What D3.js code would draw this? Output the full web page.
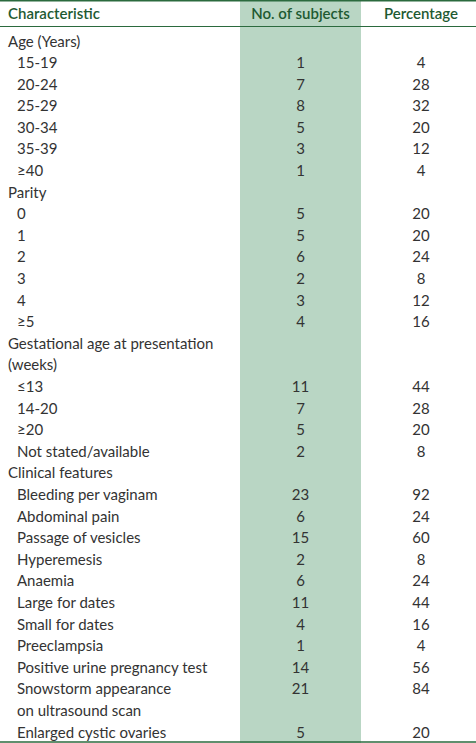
<!DOCTYPE html>
<html><head><meta charset="utf-8">
<script src="https://cdn.jsdelivr.net/npm/d3@7"></script>
<style>html,body{margin:0;padding:0;background:#fff;}svg{display:block;}</style>
</head><body>
<svg id="c" width="476" height="743"></svg>
<script>
const headers = ["Characteristic", "No. of subjects", "Percentage"];
// each entry is one text line; level 0 = group heading, 1 = item
const labels = ["Age (Years)","15-19","20-24","25-29","30-34","35-39","≥40",
  "Parity","0","1","2","3","4","≥5",
  "Gestational age at presentation","(weeks)","≤13","14-20","≥20","Not stated/available",
  "Clinical features","Bleeding per vaginam","Abdominal pain","Passage of vesicles","Hyperemesis",
  "Anaemia","Large for dates","Small for dates","Preeclampsia","Positive urine pregnancy test",
  "Snowstorm appearance","on ultrasound scan","Enlarged cystic ovaries"];
const levels = [0,1,1,1,1,1,1, 0,1,1,1,1,1,1, 0,0,1,1,1,1, 0,1,1,1,1,1,1,1,1,1,1,1,1];
const subjects = [null,1,7,8,5,3,1, null,5,5,6,2,3,4, null,null,11,7,5,2,
  null,23,6,15,2,6,11,4,1,14,21,null,5];
const percentages = [null,4,28,32,20,12,4, null,20,20,24,8,12,16, null,null,44,28,20,8,
  null,92,24,60,8,24,44,16,4,56,84,null,20];

const W = 476, H = 743;
const svg = d3.select("#c");
const font = "Lato, 'Open Sans', sans-serif";
const x = d3.scaleOrdinal().domain(headers).range([8, 300.5, 421]);
const colBand = d3.scaleLinear().domain([0,1]).range([240, 361]);
const y = d3.scaleLinear().domain([0, labels.length-1]).range([41, 732]);

// green column
svg.append("rect").attr("x", colBand(0)).attr("y", 0)
  .attr("width", colBand(1)-colBand(0)).attr("height", H).attr("fill", "#b9d6c4");

// borders
const lineC = "#2b6a3e";
svg.append("line").attr("x1",0).attr("x2",W).attr("y1",0.75).attr("y2",0.75).attr("stroke",lineC).attr("stroke-width",1.5);
svg.append("line").attr("x1",0).attr("x2",W).attr("y1",26.5).attr("y2",26.5).attr("stroke",lineC).attr("stroke-width",1.2);
svg.append("line").attr("x1",0).attr("x2",W).attr("y1",742).attr("y2",742).attr("stroke",lineC).attr("stroke-width",1.5);

// headers
svg.selectAll("text.h").data(headers).join("text").attr("class","h")
  .attr("x", d => x(d)).attr("y", 19)
  .attr("text-anchor", (d,i) => i===0 ? "start" : "middle")
  .attr("font-family", font).attr("font-size", 15).attr("font-weight", 600)
  .attr("fill", "#1e5a32").text(d => d);

const rows = labels.map((l,i) => ({label:l, level:levels[i], n:subjects[i], p:percentages[i], i}));
const body = svg.append("g").attr("font-family", font).attr("font-size", 15).attr("fill", "#333");
body.selectAll("text.l").data(rows).join("text").attr("class","l")
  .attr("x", d => d.level===1 ? 17 : 8).attr("y", d => y(d.i)+5.5)
  .text(d => d.label);
body.selectAll("text.n").data(rows.filter(d => d.n!==null)).join("text").attr("class","n")
  .attr("x", x(headers[1])).attr("y", d => y(d.i)+5.5).attr("text-anchor","middle")
  .text(d => d.n);
body.selectAll("text.p").data(rows.filter(d => d.p!==null)).join("text").attr("class","p")
  .attr("x", x(headers[2])).attr("y", d => y(d.i)+5.5).attr("text-anchor","middle")
  .text(d => d.p);
</script>
</body></html>
